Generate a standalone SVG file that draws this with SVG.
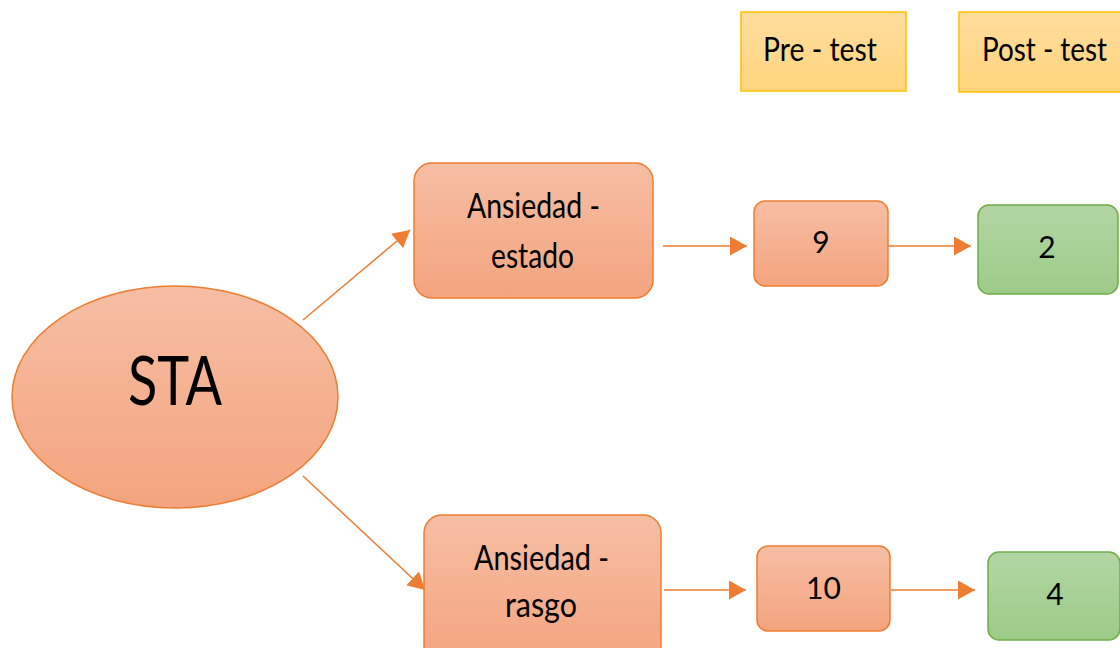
<svg xmlns="http://www.w3.org/2000/svg" width="1120" height="648" viewBox="0 0 1120 648">
  <defs>
    <linearGradient id="gOrange" x1="0" y1="0" x2="0" y2="1">
      <stop offset="0" stop-color="#F6BEA4"/>
      <stop offset="1" stop-color="#F4A47E"/>
    </linearGradient>
    <linearGradient id="gGreen" x1="0" y1="0" x2="0" y2="1">
      <stop offset="0" stop-color="#B2D6A4"/>
      <stop offset="1" stop-color="#9DCB87"/>
    </linearGradient>
    <linearGradient id="gYellow" x1="0" y1="0" x2="0" y2="1">
      <stop offset="0" stop-color="#FFDD9E"/>
      <stop offset="1" stop-color="#FFD47C"/>
    </linearGradient>
    <marker id="arrow" markerUnits="userSpaceOnUse" markerWidth="18" markerHeight="19" refX="17" refY="9.5" orient="auto">
      <path d="M0,0 L17,9.5 L0,19 Z" fill="#ED7D31"/>
    </marker>
    <style>
      .orange { fill: url(#gOrange); stroke: #ED7D31; stroke-width: 1.5; }
      .green { fill: url(#gGreen); stroke: #70AD47; stroke-width: 1.5; }
      .yellow { fill: url(#gYellow); stroke: #FFC000; stroke-width: 1.5; }
      .lbl { font-family: Lato, "Liberation Sans", sans-serif; fill: #000; text-anchor: middle; }
      .conn { stroke: #ED7D31; stroke-width: 1.5; fill: none; marker-end: url(#arrow); }
    </style>
  </defs>
  <rect width="1120" height="648" fill="#FFFFFF"/>

  <!-- column headers -->
  <g id="pre-test">
    <rect class="yellow" x="741" y="12" width="165" height="79"/>
    <text class="lbl" x="820" y="61" font-size="32" textLength="114" lengthAdjust="spacingAndGlyphs">Pre - test</text>
  </g>
  <g id="post-test">
    <rect class="yellow" x="959" y="12" width="170" height="80"/>
    <text class="lbl" x="1044.5" y="61" font-size="32" textLength="125" lengthAdjust="spacingAndGlyphs">Post - test</text>
  </g>

  <!-- root -->
  <g id="sta">
    <ellipse class="orange" cx="175" cy="397" rx="163" ry="111"/>
    <text class="lbl" x="175" y="405" font-size="67" textLength="94" lengthAdjust="spacingAndGlyphs">STA</text>
  </g>

  <!-- state anxiety branch -->
  <g id="ansiedad-estado">
    <rect class="orange" x="414" y="163" width="239" height="135" rx="18"/>
    <text class="lbl" x="533.5" y="218" font-size="34" textLength="133" lengthAdjust="spacingAndGlyphs">Ansiedad -</text>
    <text class="lbl" x="532.5" y="268" font-size="34" textLength="83" lengthAdjust="spacingAndGlyphs">estado</text>
  </g>
  <g id="estado-pre">
    <rect class="orange" x="754" y="201" width="134" height="85" rx="11"/>
    <text class="lbl" x="821" y="253" font-size="30">9</text>
  </g>
  <g id="estado-post">
    <rect class="green" x="978" y="205" width="140" height="89" rx="11"/>
    <text class="lbl" x="1047" y="258" font-size="30">2</text>
  </g>

  <!-- trait anxiety branch -->
  <g id="ansiedad-rasgo">
    <rect class="orange" x="424" y="515" width="237" height="150" rx="18"/>
    <text class="lbl" x="541.5" y="570" font-size="34" textLength="135" lengthAdjust="spacingAndGlyphs">Ansiedad -</text>
    <text class="lbl" x="541" y="617" font-size="34" textLength="72" lengthAdjust="spacingAndGlyphs">rasgo</text>
  </g>
  <g id="rasgo-pre">
    <rect class="orange" x="757" y="546" width="133" height="85" rx="11"/>
    <text class="lbl" x="823.5" y="599" font-size="30">10</text>
  </g>
  <g id="rasgo-post">
    <rect class="green" x="988" y="552" width="132" height="88" rx="11"/>
    <text class="lbl" x="1055" y="605" font-size="30">4</text>
  </g>

  <!-- connectors -->
  <g id="connectors">
    <line class="conn" x1="303" y1="320" x2="410" y2="230"/>
    <line class="conn" x1="303" y1="476" x2="425" y2="590"/>
    <line class="conn" x1="663" y1="246" x2="747" y2="246"/>
    <line class="conn" x1="888" y1="246" x2="971" y2="246"/>
    <line class="conn" x1="664" y1="590" x2="746" y2="590"/>
    <line class="conn" x1="891" y1="590" x2="975" y2="590"/>
  </g>
</svg>
